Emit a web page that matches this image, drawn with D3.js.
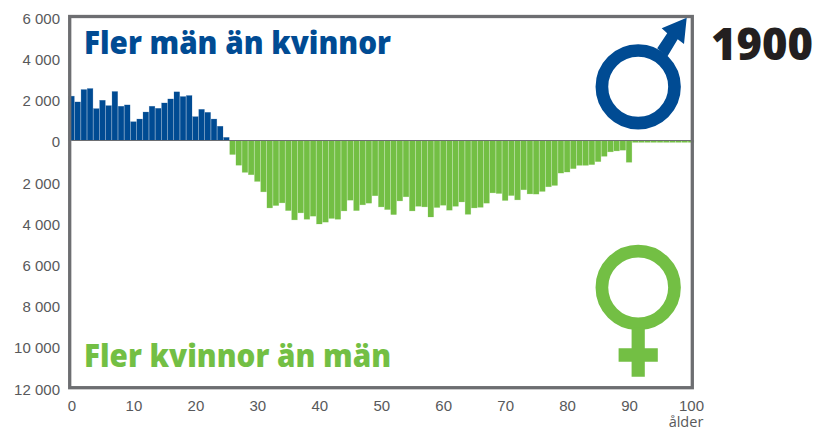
<!DOCTYPE html>
<html>
<head>
<meta charset="utf-8">
<script src="https://cdn.jsdelivr.net/npm/d3@7"></script>
<style>
  html, body { margin: 0; padding: 0; background: #fff; }
  svg { display: block; font-family: "Open Sans", sans-serif; }
  .tick text { font-size: 15px; fill: #58595b; }
</style>
</head>
<body>
<div id="chart"></div>
<script>
// excess of men, ages 0-25
const excessMen = [2150, 1870, 2470, 2520, 1545, 1950, 1690, 2375, 1660, 1725,
    910, 1040, 1380, 1660, 1560, 1820, 2015, 2360, 2130, 2180,
    1155, 1510, 1365, 1040, 690, 150];

// excess of women, ages 26-100
const excessWomen = [680, 1200, 1545, 1660, 1985, 2490, 3270, 3155, 3025, 3400,
    3850, 3510, 3820, 3670, 4050, 3960, 3780, 3820, 3415, 2895,
    3400, 3120, 3040, 2680, 3220, 3350, 3595, 2930, 2730, 3415,
    3190, 3220, 3710, 3250, 3140, 3380, 3190, 2980, 3580, 3270,
    3240, 3040, 2540, 2570, 2910, 2670, 2880, 2390, 2590, 2600,
    2470, 2245, 2180, 1580, 1530, 1365, 1205, 1205, 1170, 1025,
    765, 550, 505, 470, 1055, 90, 90, 90, 90, 90,
    90, 90, 90, 90, 90];

const yTicks = [6000, 4000, 2000, 0, -2000, -4000, -6000, -8000, -10000, -12000];
const xTicks = [0, 10, 20, 30, 40, 50, 60, 70, 80, 90, 100];
const titleMen = 'Fler män än kvinnor';
const titleWomen = 'Fler kvinnor än män';
const year = '1900';

const blue = '#004b93', green = '#73bf44', gray = '#6d6e71';
const width = 814, height = 431;

const svg = d3.select('#chart').append('svg')
    .attr('width', width)
    .attr('height', height);

const x = d3.scaleLinear().domain([0, 100]).range([71.5, 691]);
const y = d3.scaleLinear().domain([6000, -12000]).range([16.8, 387.9]);
const barWidth = 5.6;

svg.append('g')
    .attr('stroke', blue)
    .attr('stroke-opacity', 0.35)
    .attr('stroke-width', 0.6)
    .selectAll('rect')
    .data(excessMen)
    .enter().append('rect')
    .attr('x', (d, i) => x(i) - barWidth / 2)
    .attr('y', d => y(d))
    .attr('width', barWidth)
    .attr('height', d => y(0) - y(d))
    .attr('fill', blue);

svg.append('g')
    .attr('stroke', green)
    .attr('stroke-opacity', 0.35)
    .attr('stroke-width', 0.6)
    .selectAll('rect')
    .data(excessWomen)
    .enter().append('rect')
    .attr('x', (d, i) => x(i + 26) - barWidth / 2)
    .attr('y', y(0))
    .attr('width', barWidth)
    .attr('height', d => y(-d) - y(0))
    .attr('fill', green);

// zero line
svg.append('line')
    .attr('x1', x(0)).attr('x2', x(100))
    .attr('y1', y(0)).attr('y2', y(0))
    .attr('stroke', gray)
    .attr('stroke-width', 1);

// frame
svg.append('rect')
    .attr('x', 69.7)
    .attr('y', 16.5)
    .attr('width', 622.6)
    .attr('height', 371.2)
    .attr('fill', 'none')
    .attr('stroke', gray)
    .attr('stroke-width', 3.3);

const yAxis = svg.append('g')
    .attr('transform', 'translate(69,0)')
    .call(d3.axisLeft(y)
        .tickValues(yTicks)
        .tickSize(0)
        .tickPadding(9)
        .tickFormat(d => d3.format(',')(Math.abs(d)).replace(',', ' ')));
yAxis.select('.domain').remove();
yAxis.selectAll('text').attr('dy', '0.42em');

const xAxis = svg.append('g')
    .attr('transform', 'translate(0,388)')
    .call(d3.axisBottom(x)
        .tickValues(xTicks)
        .tickSize(0)
        .tickPadding(12));
xAxis.select('.domain').remove();

svg.append('text')
    .attr('x', 686)
    .attr('y', 427)
    .attr('text-anchor', 'middle')
    .attr('font-size', 14.5)
    .attr('fill', '#58595b')
    .text('ålder');

svg.append('text')
    .attr('x', 84)
    .attr('y', 54)
    .attr('font-size', 32)
    .attr('font-weight', 800)
    .attr('textLength', 307)
    .attr('lengthAdjust', 'spacingAndGlyphs')
    .attr('fill', blue)
    .text(titleMen);

svg.append('text')
    .attr('x', 84)
    .attr('y', 367)
    .attr('font-size', 32)
    .attr('font-weight', 800)
    .attr('textLength', 307)
    .attr('lengthAdjust', 'spacingAndGlyphs')
    .attr('fill', green)
    .text(titleWomen);

svg.append('text')
    .attr('x', 711)
    .attr('y', 60)
    .attr('font-size', 44)
    .attr('font-weight', 800)
    .attr('textLength', 102)
    .attr('lengthAdjust', 'spacingAndGlyphs')
    .attr('fill', '#231f20')
    .text(year);

// male symbol
const male = svg.append('g').attr('transform', 'translate(638.2,86.8)');
male.append('circle')
    .attr('r', 36.3)
    .attr('fill', 'none')
    .attr('stroke', blue)
    .attr('stroke-width', 12.7);
male.append('path')
    .attr('d', 'M48.5,-69 L45.8,-42.7 L39.5,-47.5 L29,-30 L19,-38.5 L29,-53.5 L23.5,-58.5 Z')
    .attr('fill', blue);

// female symbol
const female = svg.append('g').attr('transform', 'translate(638.2,287.5)');
female.append('circle')
    .attr('r', 36.3)
    .attr('fill', 'none')
    .attr('stroke', green)
    .attr('stroke-width', 12.7);
female.append('path')
    .attr('d', 'M-6.6,40 H6.6 V60.8 H19.6 V74.2 H6.6 V89.2 H-6.6 V74.2 H-19.6 V60.8 H-6.6 Z')
    .attr('fill', green);
</script>
</body>
</html>
